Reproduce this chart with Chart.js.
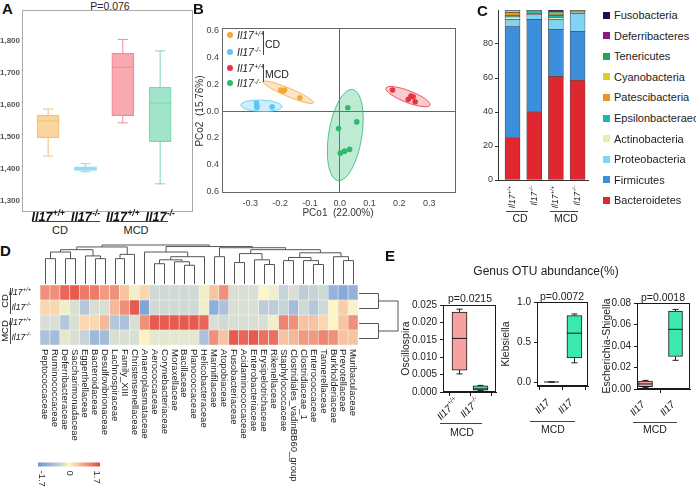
<!DOCTYPE html>
<html>
<head>
<meta charset="utf-8">
<title>Microbiome panels</title>
<script src="https://cdn.jsdelivr.net/npm/chart.js@4.4.1/dist/chart.umd.min.js"></script>
<style>
  html, body { margin: 0; padding: 0; background: #fff; }
  #page { position: relative; width: 696px; height: 490px; overflow: hidden;
          font-family: "Liberation Sans", Arial, sans-serif; color: #222; }
  #page canvas { position: absolute; }
  .t { position: absolute; white-space: nowrap; line-height: 1; }
  .letter { position: absolute; font-weight: bold; font-size: 15px; line-height: 1; color: #111; }
  .hline { position: absolute; height: 0; border-top: 1px solid #444; }
  .vline { position: absolute; width: 0; border-left: 1px solid #444; }
  .sup { font-size: 0.66em; position: relative; top: -0.5em; margin-left: 0.05em; }
</style>
</head>
<body>
<div id="page"></div>
<script>
// ---- A: OTU richness, box summaries (CD wt, CD ko, MCD wt, MCD ko)
const aSups = ['+/+', '-/-', '+/+', '-/-'];
const aMin = [1440, 1391, 1544, 1353];
const aQ1  = [1497, 1395, 1566, 1485];
const aMed = [1550, 1400, 1718, 1606];
const aQ3  = [1568, 1406, 1762, 1656];
const aMax = [1587, 1416, 1805, 1769];

// ---- B: PCoA points
const pcoCdWtX  = [-0.198, -0.190, -0.185, -0.134];
const pcoCdWtY  = [0.157, 0.150, 0.157, 0.100];
const pcoCdKoX  = [-0.279, -0.278, -0.278, -0.227];
const pcoCdKoY  = [0.060, 0.042, 0.027, 0.032];
const pcoMcdWtX = [0.177, 0.230, 0.239, 0.246, 0.253];
const pcoMcdWtY = [0.157, 0.088, 0.113, 0.108, 0.070];
const pcoMcdKoX = [0.027, 0.057, -0.004, 0.002, 0.016, 0.033];
const pcoMcdKoY = [0.025, -0.080, -0.130, -0.313, -0.298, -0.285];
// confidence ellipses: major axis ends (x1, y1, x2, y2), minor/major ratio
const ellCdWt  = [-0.257, 0.220, -0.088, 0.062];
const ellCdKo  = [-0.332, 0.046, -0.194, 0.034];
const ellMcdWt = [0.155, 0.172, 0.303, 0.045];
const ellMcdKo = [0.043, 0.162, -0.006, -0.518];
const ellRatio = [0.15, 0.28, 0.25, 0.36];

// ---- C: phylum composition (%)
const phyla = ['Bacteroidetes', 'Firmicutes', 'Proteobacteria', 'Actinobacteria', 'Epsilonbacteraeota',
               'Patescibacteria', 'Cyanobacteria', 'Tenericutes', 'Deferribacteres', 'Fusobacteria'];
const cSups = ['+/+', '-/-', '+/+', '-/-'];
const bacteroidetes   = [25.0, 40.0, 61.0, 58.7];
const firmicutes      = [65.3, 54.5, 27.5, 28.6];
const proteobacteria  = [4.2, 2.8, 6.0, 10.5];
const actinobacteria  = [1.5, 0.6, 1.2, 1.0];
const epsilonbact     = [0.8, 1.0, 1.2, 0.1];
const patescibacteria = [1.8, 0.2, 0.4, 0.3];
const cyanobacteria   = [0.8, 0.1, 0.8, 0.3];
const tenericutes     = [0.3, 0.5, 0.8, 0.1];
const deferribacteres = [0.2, 0.1, 0.1, 0.1];
const fusobacteria    = [0.1, 0.2, 1.0, 0.3];
const phylumValues = [bacteroidetes, firmicutes, proteobacteria, actinobacteria, epsilonbact,
                      patescibacteria, cyanobacteria, tenericutes, deferribacteres, fusobacteria];
const phylumColors = ['#e0262e', '#3d8fdb', '#80d4f2', '#f1eba9', '#1bb6b0',
                      '#e8961e', '#d9d02b', '#1fa65b', '#8b1c7c', '#2b0c4b'];

// ---- D: family heatmap (row z-scores)
const families = ['Peptococcaceae', 'Ruminococcaceae', 'Deferribacteraceae', 'Saccharimonadaceae',
  'Eggerthellaceae', 'Bacteroidaceae', 'Desulfovibrionaceae', 'Lachnospiraceae', 'Family_XIII',
  'Christensenellaceae', 'Anaeroplasmataceae', 'Aerococcaceae', 'Corynebacteriaceae', 'Moraxellaceae',
  'Bacillaceae', 'Planococcaceae', 'Helicobacteraceae', 'Marinifilaceae', 'Atopobiaceae',
  'Fusobacteriaceae', 'Acidaminococcaceae', 'Enterobacteriaceae', 'Erysipelotrichaceae', 'Rikenellaceae',
  'Staphylococcaceae', 'Clostridiales_vadinBB60_group', 'Clostridiaceae_1', 'Enterococcaceae',
  'Tannerellaceae', 'Burkholderiaceae', 'Prevotellaceae', 'Muribaculaceae'];
const rowSups = ['+/+', '-/-', '+/+', '-/-'];
const rowGroups = ['CD', 'MCD'];
const rowCdWt  = [1.0, 1.0, 1.4, 1.5, 1.2, 1.2, 0.9, 1.0, 0.5, -0.1, 0.3, -0.4, -0.4, -0.4, -0.4, -0.4,
                  -0.1, 0.5, 1.0, -0.3, -0.3, -0.3, 0.0, -0.1, -0.5, -0.3, -0.6, -0.5, -0.4, -1.1, -1.3, -1.1];
const rowCdKo  = [0.3, 0.3, -0.1, -0.3, -0.7, -0.3, -0.3, 0.6, 1.0, 1.5, -1.4, -0.4, -0.4, -0.4, -0.4, -0.4,
                  -0.1, -1.2, -0.8, -0.3, -0.3, -0.3, -0.6, -0.6, -0.5, -0.9, -0.4, -0.7, -0.4, 0.0, 0.4, -0.05];
const rowMcdWt = [-0.3, -0.3, -0.7, -0.3, 0.3, 0.3, 0.6, -0.7, -0.8, -0.3, 1.0, 1.5, 1.5, 1.5, 1.5, 1.5,
                  1.4, -0.3, -0.4, -0.3, -0.3, -0.3, -0.3, -0.1, 1.1, 1.0, 0.5, 0.5, 0.3, 0.0, 0.5, 1.0];
const rowMcdKo = [-0.8, -0.9, -0.2, -0.3, -0.5, -1.0, -0.9, -0.3, -0.3, -0.3, 0.05, -0.2, -0.2, -0.2, -0.2, -0.2,
                  -0.8, 1.0, 0.5, 1.5, 1.4, 1.5, 1.3, 1.3, 0.5, 0.6, 0.9, 0.9, 1.1, 1.0, 0.5, 0.5];
const keyTicks = [-1.7, 0, 1.7];
// cluster trees: [height, left, right], leaves are column / row indices
const colTree = [1.0,
  [0.95,
    [0.88, [0.82, [0.65, 0, 1], [0.65, 2, 3]], [0.72, 4, [0.65, 5, 6]]],
    [0.76, [0.65, 7, 8], 9]],
  [0.96,
    [0.82, 10, [0.70, [0.62, [0.52, 11, 12], [0.57, 13, [0.48, 14, 15]]], 16]],
    [0.93, [0.70, 17, 18],
      [0.88, [0.78, [0.55, 19, 20], [0.62, 21, [0.50, 22, 23]]],
        [0.80, [0.68, [0.60, 24, 25], [0.60, 26, [0.50, 27, 28]]], [0.70, 29, [0.60, 30, 31]]]]]]];
const rowTree = [1.0, [0.5, 0, 1], [0.5, 2, 3]];

// ---- E: genus abundance (MCD wt, MCD ko)
const oscMin  = [0.0052, 0.0004], oscQ1 = [0.0063, 0.0005], oscMed = [0.0154, 0.0009],
      oscQ3   = [0.0230, 0.0018], oscMax = [0.0238, 0.0019];
const klebMin = [0, 0.24], klebQ1 = [0, 0.30], klebMed = [0, 0.61], klebQ3 = [0, 0.83], klebMax = [0, 0.85];
const eschMin = [0.0015, 0.0267], eschQ1 = [0.0021, 0.0302], eschMed = [0.0047, 0.0555],
      eschQ3  = [0.0074, 0.0725], eschMax = [0.0080, 0.0740];

// ------------------------------------------------------------------
const FONT = '"Liberation Sans", Arial, sans-serif';
Chart.defaults.font.family = FONT;
Chart.defaults.color = '#333';
const page = document.getElementById('page');

function canvasAt(x, y, w, h) {
  const c = document.createElement('canvas');
  c.width = w; c.height = h;
  c.style.left = x + 'px'; c.style.top = y + 'px';
  c.style.width = w + 'px'; c.style.height = h + 'px';
  page.appendChild(c);
  return c;
}
function text(html, x, y, size, extra) {
  const e = extra || {};
  const d = document.createElement('div');
  d.className = 't';
  d.innerHTML = html;
  d.style.left = x + 'px';
  d.style.top = y + 'px';
  d.style.fontSize = size + 'px';
  let tf = e.left ? 'translate(0,-50%)' : 'translate(-50%,-50%)';
  if (e.rot) tf += ' rotate(' + e.rot + 'deg)';
  d.style.transform = tf;
  if (e.style) d.style.cssText += e.style;
  page.appendChild(d);
}
function hline(x1, x2, y) {
  const d = document.createElement('div');
  d.className = 'hline';
  d.style.cssText = 'left:' + x1 + 'px;top:' + y + 'px;width:' + (x2 - x1) + 'px;';
  page.appendChild(d);
}
function vline(x, y1, y2) {
  const d = document.createElement('div');
  d.className = 'vline';
  d.style.cssText = 'left:' + x + 'px;top:' + y1 + 'px;height:' + (y2 - y1) + 'px;';
  page.appendChild(d);
}
function letter(ch, x, y) {
  const d = document.createElement('div');
  d.className = 'letter';
  d.textContent = ch;
  d.style.left = x + 'px'; d.style.top = y + 'px';
  page.appendChild(d);
}
const geno = s => '<i>Il17</i><span class="sup"><i>' + s + '</i></span>';
const thousands = v => String(Math.round(v)).replace(/\B(?=(\d{3})+(?!\d))/g, ',');

function drawGeno(ctx, x, y, sup, size, rot, align, bold) {
  const w = bold ? 'bold ' : '';
  const big = w + 'italic ' + size + 'px ' + FONT;
  const small = w + 'italic ' + (size * 0.66).toFixed(2) + 'px ' + FONT;
  ctx.save();
  ctx.translate(x, y);
  ctx.rotate(rot);
  ctx.font = big;
  const w1 = ctx.measureText('Il17').width;
  ctx.font = small;
  const w2 = sup ? ctx.measureText(sup).width + 0.5 : 0;
  const total = w1 + w2;
  const x0 = align === 'center' ? -total / 2 : (align === 'right' ? -total : 0);
  ctx.fillStyle = '#111';
  ctx.textAlign = 'left';
  ctx.textBaseline = 'middle';
  ctx.font = big;
  ctx.fillText('Il17', x0, 0);
  if (sup) {
    ctx.font = small;
    ctx.fillText(sup, x0 + w1 + 0.5, -size * 0.36);
  }
  ctx.restore();
}

// genotype labels under each x position 1..n
function genoTicks(sups, cfg) {
  return {
    id: 'genoTicks',
    afterDraw(chart) {
      const x = chart.scales.x, bottom = chart.chartArea.bottom;
      sups.forEach((s, i) => {
        drawGeno(chart.ctx, x.getPixelForValue(i + 1) + (cfg.dx || 0), bottom + cfg.dy,
                 s, cfg.size, cfg.rot, cfg.align, cfg.bold);
      });
    }
  };
}

const framePlugin = {
  id: 'frame',
  afterDraw(chart, args, opts) {
    const a = chart.chartArea, ctx = chart.ctx;
    ctx.save();
    ctx.strokeStyle = opts.color || '#666';
    ctx.lineWidth = 1;
    ctx.strokeRect(Math.round(a.left) + 0.5, Math.round(a.top) + 0.5,
                   Math.round(a.right - a.left) - 1, Math.round(a.bottom - a.top) - 1);
    ctx.restore();
  }
};

// whiskers + median on top of floating-bar boxes
const boxPlugin = {
  id: 'boxes',
  afterDatasetsDraw(chart) {
    const st = chart.data.datasets[0].box;
    const y = chart.scales.y, ctx = chart.ctx;
    chart.getDatasetMeta(0).data.forEach((bar, i) => {
      const x = bar.x, hw = bar.width / 2;
      const yMax = y.getPixelForValue(st.max[i]), yMin = y.getPixelForValue(st.min[i]);
      const yQ3 = y.getPixelForValue(st.q3[i]), yQ1 = y.getPixelForValue(st.q1[i]);
      const yMed = y.getPixelForValue(st.med[i]);
      ctx.save();
      ctx.strokeStyle = Array.isArray(st.stroke) ? st.stroke[i] : st.stroke;
      ctx.lineWidth = st.lw;
      ctx.beginPath();
      ctx.moveTo(x, yQ3); ctx.lineTo(x, yMax);
      ctx.moveTo(x - st.cap, yMax); ctx.lineTo(x + st.cap, yMax);
      ctx.moveTo(x, yQ1); ctx.lineTo(x, yMin);
      ctx.moveTo(x - st.cap, yMin); ctx.lineTo(x + st.cap, yMin);
      ctx.moveTo(x - hw, yMed); ctx.lineTo(x + hw, yMed);
      ctx.stroke();
      ctx.restore();
    });
  }
};

// ================= A =================
letter('A', 2, 1);
text('P=0.076', 110, 6, 10.5);
hline(32, 100, 221); text('CD', 60, 230, 11);
hline(106, 168, 221); text('MCD', 136, 230, 11);

const aFill = ['rgba(248,210,146,0.9)', 'rgba(160,228,247,0.9)', 'rgba(247,160,169,0.9)', 'rgba(150,225,195,0.9)'];
const aLine = ['#f0c07c', '#8ad9f0', '#f08b97', '#7dd7b2'];
// canvas starts 4px left of the page so the clipped tick labels match the original
new Chart(canvasAt(-4, 0, 204, 240), {
  type: 'bar',
  data: {
    datasets: [{
      data: aQ1.map((q, i) => ({x: i + 1, y: [q, aQ3[i]]})),
      backgroundColor: aFill, borderColor: aLine, borderWidth: 1, borderSkipped: false, barThickness: 22,
      box: {min: aMin, q1: aQ1, med: aMed, q3: aQ3, max: aMax, stroke: aLine, lw: 1, cap: 5}
    }]
  },
  options: {
    responsive: false, animation: false,
    layout: {padding: {top: 10, right: 7, bottom: 28, left: 0}},
    scales: {
      x: {type: 'linear', display: false, min: 0.3, max: 4.88, offset: false},
      y: {min: 1265, max: 1897, grid: {display: false, drawTicks: false}, border: {display: false},
          ticks: {stepSize: 100, includeBounds: false, padding: 2, color: '#555',
                  font: {size: 8, weight: 'bold'}, callback: thousands},
          afterFit: s => { s.width = 26; }}
    },
    plugins: {legend: {display: false}, tooltip: {enabled: false}, frame: {color: '#a9a9a9'}}
  },
  plugins: [framePlugin, boxPlugin, genoTicks(aSups, {dy: 6, size: 12.5, rot: 0, align: 'center', bold: true})]
});

// ================= B =================
letter('B', 193, 1);
const pcoColors = ['#f5a93a', '#5cc8f1', '#e9343f', '#2bbb6d'];
const pcoFills = ['rgba(245,169,58,0.3)', 'rgba(92,200,241,0.3)', 'rgba(233,52,63,0.25)', 'rgba(43,187,109,0.3)'];
const pcoSets = [[pcoCdWtX, pcoCdWtY, ellCdWt], [pcoCdKoX, pcoCdKoY, ellCdKo],
                 [pcoMcdWtX, pcoMcdWtY, ellMcdWt], [pcoMcdKoX, pcoMcdKoY, ellMcdKo]];

const ellipsePlugin = {
  id: 'ellipses',
  beforeDatasetsDraw(chart) {
    const {ctx, scales: {x, y}} = chart;
    chart.data.datasets.forEach(ds => {
      const e = ds.ellipse;
      const x1 = x.getPixelForValue(e.axis[0]), y1 = y.getPixelForValue(e.axis[1]);
      const x2 = x.getPixelForValue(e.axis[2]), y2 = y.getPixelForValue(e.axis[3]);
      const a = Math.hypot(x2 - x1, y2 - y1) / 2;
      ctx.save();
      ctx.beginPath();
      ctx.ellipse((x1 + x2) / 2, (y1 + y2) / 2, a, a * e.ratio, Math.atan2(y2 - y1, x2 - x1), 0, Math.PI * 2);
      ctx.fillStyle = e.fill; ctx.fill();
      ctx.strokeStyle = e.stroke; ctx.lineWidth = 0.8; ctx.stroke();
      ctx.restore();
    });
  }
};
const zeroLine = c => (c.tick && Math.abs(c.tick.value) < 1e-9) ? '#666' : 'rgba(0,0,0,0)';

new Chart(canvasAt(195, 0, 265, 240), {
  type: 'scatter',
  data: {
    datasets: pcoSets.map((s, k) => ({
      data: s[0].map((v, i) => ({x: v, y: s[1][i]})),
      pointRadius: 2.8, pointBackgroundColor: pcoColors[k], pointBorderWidth: 0,
      ellipse: {axis: s[2], ratio: ellRatio[k], fill: pcoFills[k], stroke: pcoColors[k]}
    }))
  },
  options: {
    responsive: false, animation: false,
    layout: {padding: {top: 28, right: 2, left: 0, bottom: 0}},
    scales: {
      x: {type: 'linear', min: -0.395, max: 0.39,
          grid: {color: zeroLine, drawTicks: false}, border: {display: false},
          ticks: {stepSize: 0.1, includeBounds: false, padding: 5, color: '#444', font: {size: 9},
                  callback: v => v.toFixed(1)},
          afterFit: s => { s.height = 47; }},
      y: {type: 'linear', min: -0.61, max: 0.62,
          grid: {color: zeroLine, drawTicks: false}, border: {display: false},
          ticks: {stepSize: 0.2, includeBounds: false, padding: 3, color: '#444', font: {size: 9},
                  callback: v => Math.abs(v).toFixed(1)},
          afterFit: s => { s.width = 27; }}
    },
    plugins: {legend: {display: false}, tooltip: {enabled: false}, frame: {color: '#666'}}
  },
  plugins: [ellipsePlugin, framePlugin]
});

text('PCo1&nbsp;&nbsp;(22.00%)', 338, 213, 10, {style: 'color:#333;'});
text('PCo2&nbsp;&nbsp;(15.76%)', 200, 111, 10, {rot: -90, style: 'color:#333;'});
const legendY = [35, 51.5, 68, 83];
const legendSups = ['+/+', '-/-', '+/+', '-/-'];
legendY.forEach((yy, k) => {
  const dot = document.createElement('div');
  dot.style.cssText = 'position:absolute;left:227px;top:' + (yy - 3) + 'px;width:6px;height:6px;border-radius:50%;background:' + pcoColors[k] + ';';
  page.appendChild(dot);
  text(geno(legendSups[k]), 237, yy, 10.5, {left: true});
});
vline(263, 31, 55); text('CD', 265, 44, 10.5, {left: true});
vline(263, 64, 82); text('MCD', 265, 74, 10.5, {left: true});

// ================= C =================
letter('C', 477, 3);
new Chart(canvasAt(440, 0, 160, 240), {
  type: 'bar',
  data: {
    datasets: phyla.map((p, k) => ({
      label: p,
      data: phylumValues[k].map((v, i) => ({x: i + 1, y: v})),
      backgroundColor: phylumColors[k], borderColor: '#505050', borderWidth: 0.7,
      borderSkipped: false, barThickness: 15
    }))
  },
  options: {
    responsive: false, animation: false,
    layout: {padding: {top: 10, right: 12, left: 0, bottom: 0}},
    scales: {
      x: {type: 'linear', min: 0.33, max: 4.48, offset: false, stacked: true,
          ticks: {display: false}, grid: {display: false}, border: {color: '#333'},
          afterFit: s => { s.height = 60; }},
      y: {stacked: true, min: 0, max: 100,
          ticks: {stepSize: 20, padding: 2, color: '#333', font: {size: 9}},
          grid: {drawOnChartArea: false, tickLength: 3, color: '#333'}, border: {color: '#333'},
          afterBuildTicks: s => { s.ticks = s.ticks.filter(t => t.value < 100); },
          afterFit: s => { s.width = 58; }}
    },
    plugins: {legend: {display: false}, tooltip: {enabled: false}}
  },
  plugins: [genoTicks(cSups, {dy: 6, size: 8.5, rot: -Math.PI / 2, align: 'right', bold: false})]
});
hline(506, 528, 211); text('CD', 520, 218, 10.5);
hline(550, 578, 211); text('MCD', 566, 218, 10.5);
phyla.slice().reverse().forEach((p, k) => {
  const yy = 15 + k * 20.6;
  const sq = document.createElement('div');
  sq.style.cssText = 'position:absolute;left:603px;top:' + (yy - 3.5) + 'px;width:7px;height:7px;background:' +
    phylumColors[phyla.length - 1 - k] + ';';
  page.appendChild(sq);
  text(p, 614, yy, 11, {left: true, style: 'color:#222;'});
});

// ================= D =================
letter('D', 0, 243);
const heatStops = [[-1.7, [107, 152, 209]], [-0.9, [163, 188, 219]], [-0.35, [211, 220, 213]],
                   [0, [253, 246, 198]], [0.4, [249, 205, 168]], [0.9, [240, 154, 130]], [1.7, [228, 70, 62]]];
function heatColor(v) {
  for (let i = 1; i < heatStops.length; i++) {
    const [v1, c1] = heatStops[i];
    const [v0, c0] = heatStops[i - 1];
    if (v <= v1 || i === heatStops.length - 1) {
      const t = Math.max(0, Math.min(1, (v - v0) / (v1 - v0)));
      return 'rgb(' + c0.map((c, j) => Math.round(c + (c1[j] - c) * t)).join(',') + ')';
    }
  }
}
function walk(node, leaf, draw) {
  if (typeof node === 'number') return {p: leaf(node), h: 0};
  const a = walk(node[1], leaf, draw), b = walk(node[2], leaf, draw);
  draw(a, b, node[0]);
  return {p: (a.p + b.p) / 2, h: node[0]};
}
const heatDecor = {
  id: 'heatDecor',
  afterDraw(chart) {
    const {ctx, chartArea: a, scales: {x, y}} = chart;
    const rowY = r => y.getPixelForValue(4 - r - 0.5);
    ctx.save();
    // column labels
    ctx.fillStyle = '#222'; ctx.font = '9.5px ' + FONT;
    ctx.textAlign = 'left'; ctx.textBaseline = 'middle';
    families.forEach((f, i) => {
      ctx.save(); ctx.translate(x.getPixelForValue(i), a.bottom + 4); ctx.rotate(Math.PI / 2);
      ctx.fillText(f, 0, 0); ctx.restore();
    });
    // row labels
    rowSups.forEach((s, r) => drawGeno(ctx, a.left - 9, rowY(r), s, 8.5, 0, 'right', false));
    ctx.strokeStyle = '#444'; ctx.lineWidth = 1;
    rowGroups.forEach((g, k) => {
      const top = y.getPixelForValue(4 - 2 * k) + 3, bot = y.getPixelForValue(2 - 2 * k) - 1;
      ctx.beginPath(); ctx.moveTo(10.5, top); ctx.lineTo(10.5, bot); ctx.stroke();
      ctx.save(); ctx.translate(5, (top + bot) / 2); ctx.rotate(-Math.PI / 2);
      ctx.font = '9.5px ' + FONT; ctx.fillStyle = '#222'; ctx.textAlign = 'center'; ctx.textBaseline = 'middle';
      ctx.fillText(g, 0, 0); ctx.restore();
    });
    // dendrograms
    ctx.strokeStyle = '#555';
    const base = a.top - 1, topY = 5;
    const hy = h => base - h * (base - topY);
    const hx = h => a.right + 1 + h * 39;
    ctx.beginPath();
    walk(colTree, i => Math.round(x.getPixelForValue(i)) + 0.5, (p, q, h) => {
      ctx.moveTo(p.p, hy(p.h)); ctx.lineTo(p.p, hy(h)); ctx.lineTo(q.p, hy(h)); ctx.lineTo(q.p, hy(q.h));
    });
    walk(rowTree, r => Math.round(rowY(r)) + 0.5, (p, q, h) => {
      ctx.moveTo(hx(p.h), p.p); ctx.lineTo(hx(h), p.p); ctx.lineTo(hx(h), q.p); ctx.lineTo(hx(q.h), q.p);
    });
    ctx.stroke();
    // colour key
    const kx = 38, kw = 62, ky = 222.5, kh = 4;
    const grad = ctx.createLinearGradient(kx, 0, kx + kw, 0);
    heatStops.forEach(([v, c]) => grad.addColorStop((v + 1.7) / 3.4, 'rgb(' + c.join(',') + ')'));
    ctx.fillStyle = grad; ctx.fillRect(kx, ky, kw, kh);
    ctx.fillStyle = '#222'; ctx.font = '9.5px ' + FONT; ctx.textAlign = 'left'; ctx.textBaseline = 'middle';
    keyTicks.forEach(v => {
      ctx.save(); ctx.translate(42 + (v + 1.7) / 3.4 * 55, ky + kh + 4); ctx.rotate(Math.PI / 2);
      ctx.fillText(v === 0 ? '0' : v.toFixed(1), 0, 0); ctx.restore();
    });
    ctx.restore();
  }
};
const heatRows = [rowCdWt, rowCdKo, rowMcdWt, rowMcdKo];
new Chart(canvasAt(0, 240, 440, 250), {
  type: 'bar',
  data: {
    labels: families,
    datasets: heatRows.slice().reverse().map(row => ({
      data: row.map(() => 1),
      backgroundColor: row.map(heatColor),
      borderColor: '#f2f2f2', borderWidth: 0.6, borderSkipped: false,
      barPercentage: 1, categoryPercentage: 1
    }))
  },
  options: {
    responsive: false, animation: false,
    layout: {padding: {top: 45, right: 82, left: 40, bottom: 145}},
    scales: {
      x: {stacked: true, display: false},
      y: {stacked: true, display: false, min: 0, max: 4}
    },
    plugins: {legend: {display: false}, tooltip: {enabled: false}}
  },
  plugins: [heatDecor]
});

// ================= E =================
letter('E', 385, 248);
text('Genus OTU abundance(%)', 546, 271, 12);
const ePink = '#f7a1a1', eGreen = '#3be8ad';
function boxChart(canvas, o) {
  return new Chart(canvas, {
    type: 'bar',
    data: {
      datasets: [{
        data: o.q1.map((q, i) => ({x: i + 1, y: [q, o.q3[i]]})),
        backgroundColor: [ePink, eGreen], borderColor: '#1a1a1a', borderWidth: 1, borderSkipped: false,
        barThickness: o.bw,
        box: {min: o.min, q1: o.q1, med: o.med, q3: o.q3, max: o.max, stroke: '#1a1a1a', lw: 1, cap: 3}
      }]
    },
    options: {
      responsive: false, animation: false,
      layout: {padding: {top: o.top, right: o.right, left: 0, bottom: 0}},
      scales: {
        x: {type: 'linear', min: o.xmin, max: o.xmax, offset: false,
            afterBuildTicks: s => { s.ticks = o.q1.map((_, i) => ({value: i + 1})); },
            ticks: {callback: () => ''},
            grid: {drawOnChartArea: false, tickLength: 4, color: '#1a1a1a'}, border: {color: '#1a1a1a'},
            afterFit: s => { s.height = o.xh; }},
        y: {min: o.ymin, max: o.ymax,
            ticks: {stepSize: o.step, includeBounds: false, padding: 3, color: '#222', font: {size: 10},
                    callback: v => v.toFixed(o.dec)},
            grid: {drawOnChartArea: false, tickLength: 3, color: '#1a1a1a'}, border: {color: '#1a1a1a'},
            title: {display: true, text: o.title, color: '#222', font: {size: 10.5}, padding: {top: o.tpad, bottom: 0}},
            afterFit: s => { s.width = o.yw; }}
      },
      plugins: {legend: {display: false}, tooltip: {enabled: false}, frame: {color: '#1a1a1a'}}
    },
    plugins: [framePlugin, boxPlugin,
              genoTicks(o.sups, {dx: o.ldx, dy: o.ldy, size: 10, rot: -Math.PI / 4, align: 'right', bold: false})]
  });
}
boxChart(canvasAt(400, 290, 100, 150), {
  min: oscMin, q1: oscQ1, med: oscMed, q3: oscQ3, max: oscMax, sups: ['+/+', '-/-'],
  top: 15, right: 4, yw: 43, xh: 48, xmin: 0.214, xmax: 2.738, ymin: 0, ymax: 0.025, step: 0.005, dec: 3,
  title: 'Oscillospira', tpad: 0, bw: 15, ldx: -2, ldy: 8
});
boxChart(canvasAt(490, 290, 100, 150), {
  min: klebMin, q1: klebQ1, med: klebMed, q3: klebQ3, max: klebMax, sups: ['', ''],
  top: 12, right: 2, yw: 47, xh: 54, xmin: 0.37, xmax: 2.59, ymin: -0.05, ymax: 1.0, step: 0.5, dec: 1,
  title: 'Klebsiella', tpad: 10, bw: 15, ldx: -3, ldy: 15
});
boxChart(canvasAt(590, 290, 106, 150), {
  min: eschMin, q1: eschQ1, med: eschMed, q3: eschQ3, max: eschMax, sups: ['', ''],
  top: 13, right: 6, yw: 47, xh: 51, xmin: 0.717, xmax: 2.483, ymin: 0, ymax: 0.08, step: 0.02, dec: 2,
  title: 'Escherichia-Shigella', tpad: 11, bw: 14, ldx: -2, ldy: 14
});
text('p=0.0215', 470, 298, 10.5);
text('p=0.0072', 562, 296, 10.5);
text('p=0.0018', 663, 297, 10.5);
hline(440, 482, 423); text('MCD', 462, 432, 10.5);
hline(530, 575, 421); text('MCD', 553, 429, 10.5);
hline(633, 677, 422); text('MCD', 655, 429, 10.5);
</script>
</body>
</html>
